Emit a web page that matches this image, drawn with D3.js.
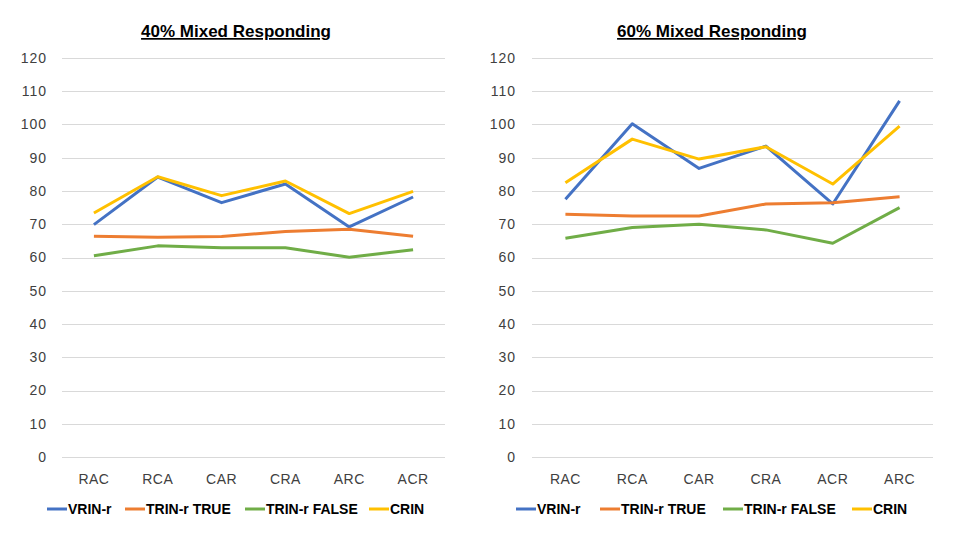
<!DOCTYPE html>
<html>
<head>
<meta charset="utf-8">
<script src="https://cdn.jsdelivr.net/npm/d3@7"></script>
<style>
  body { margin: 0; background: #fff; }
  svg { display: block; }
  text { font-family: "Liberation Sans", Arial, sans-serif; }
</style>
</head>
<body>
<svg id="chart" width="960" height="540"></svg>
<script>
// Data
const seriesNames = ['VRIN-r', 'TRIN-r TRUE', 'TRIN-r FALSE', 'CRIN'];
const seriesColors = ['#4472C4', '#ED7D31', '#70AD47', '#FFC000'];
const yTicks = [0, 10, 20, 30, 40, 50, 60, 70, 80, 90, 100, 110, 120];

const title40 = '40% Mixed Responding';
const cats40 = ['RAC', 'RCA', 'CAR', 'CRA', 'ARC', 'ACR'];
const vrin40 = [69.9, 84.2, 76.5, 82.1, 69.2, 78.2];
const trinTrue40 = [66.4, 66.1, 66.3, 67.8, 68.5, 66.4];
const trinFalse40 = [60.5, 63.5, 62.9, 62.9, 60.1, 62.3];
const crin40 = [73.4, 84.3, 78.6, 83.0, 73.2, 79.9];

const title60 = '60% Mixed Responding';
const cats60 = ['RAC', 'RCA', 'CAR', 'CRA', 'ACR', 'ARC'];
const vrin60 = [77.5, 100.2, 86.8, 93.5, 76.1, 107.1];
const trinTrue60 = [73.0, 72.5, 72.5, 76.1, 76.5, 78.3];
const trinFalse60 = [65.8, 69.0, 70.0, 68.3, 64.3, 75.0];
const crin60 = [82.5, 95.6, 89.6, 93.3, 82.1, 99.5];

const svg = d3.select('#chart');

// Draw one panel
function drawPanel(opts) {
    const g = svg.append('g');

    const x = d3.scaleBand()
        .domain(opts.cats)
        .range([opts.x0, opts.x1]);
    const y = d3.scaleLinear()
        .domain([0, 120])
        .range([457, 58]);

    // Gridlines
    g.selectAll('.grid')
        .data(yTicks)
        .join('line')
        .attr('x1', opts.x0)
        .attr('x2', opts.x1)
        .attr('y1', d => Math.round(y(d)) + 0.5)
        .attr('y2', d => Math.round(y(d)) + 0.5)
        .attr('stroke', '#d9d9d9')
        .attr('stroke-width', 1);

    // Y labels
    g.selectAll('.ylab')
        .data(yTicks)
        .join('text')
        .attr('x', opts.labelX)
        .attr('y', d => y(d))
        .attr('dy', '0.35em')
        .attr('text-anchor', 'end')
        .attr('font-size', 14)
        .attr('letter-spacing', 1)
        .attr('fill', '#404040')
        .text(d => d);

    // Category labels
    g.selectAll('.xlab')
        .data(opts.cats)
        .join('text')
        .attr('x', d => x(d) + x.bandwidth() / 2)
        .attr('y', 484)
        .attr('text-anchor', 'middle')
        .attr('font-size', 14)
        .attr('letter-spacing', 0.5)
        .attr('fill', '#404040')
        .text(d => d);

    // Lines
    const line = d3.line()
        .x((d, i) => x(opts.cats[i]) + x.bandwidth() / 2)
        .y(d => y(d));
    opts.series.forEach((vals, i) => {
        g.append('path')
            .datum(vals)
            .attr('d', line)
            .attr('fill', 'none')
            .attr('stroke', seriesColors[i])
            .attr('stroke-width', 3)
            .attr('stroke-linejoin', 'round');
    });

    // Title
    g.append('text')
        .attr('x', opts.titleX)
        .attr('y', 37)
        .attr('text-anchor', 'middle')
        .attr('font-size', 17)
        .attr('font-weight', 'bold')
        .attr('text-decoration', 'underline')
        .attr('fill', '#000')
        .text(opts.title);

    // Legend
    const leg = g.selectAll('.leg')
        .data(seriesNames)
        .join('g')
        .attr('transform', (d, i) => `translate(${opts.legendX[i]},509)`);
    leg.append('line')
        .attr('x1', 0)
        .attr('x2', 20)
        .attr('stroke', (d, i) => seriesColors[i])
        .attr('stroke-width', 3);
    leg.append('text')
        .attr('x', 21)
        .attr('dy', '0.36em')
        .attr('font-size', 14)
        .attr('font-weight', 'bold')
        .attr('fill', '#000')
        .text(d => d);
}

drawPanel({
    title: title40,
    titleX: 236,
    cats: cats40,
    series: [vrin40, trinTrue40, trinFalse40, crin40],
    x0: 62, x1: 445,
    labelX: 47,
    legendX: [47, 125, 245, 369]
});

drawPanel({
    title: title60,
    titleX: 712,
    cats: cats60,
    series: [vrin60, trinTrue60, trinFalse60, crin60],
    x0: 532, x1: 933,
    labelX: 516,
    legendX: [516, 600, 723, 852]
});
</script>
</body>
</html>
